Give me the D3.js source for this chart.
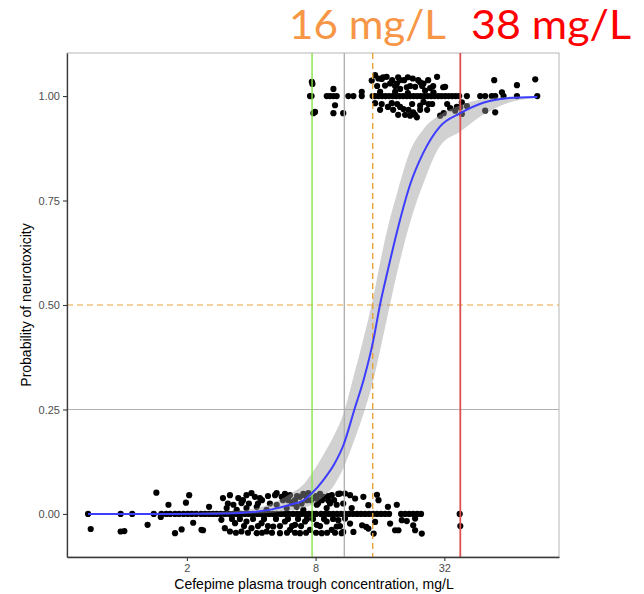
<!DOCTYPE html>
<html><head><meta charset="utf-8">
<script src="https://cdn.jsdelivr.net/npm/d3@7"></script>
<style>body{margin:0;background:#fff}svg{display:block}</style></head>
<body>
<svg id="c" width="644" height="594"></svg>
<script>
// ---------- data ----------
const xTicks = [2, 8, 32];
const yTicks = [0, 0.25, 0.5, 0.75, 1];
const xDomain = [0.55, 110];
const yDomain = [-0.103, 1.103];
const refConc = [7.7, 10.9, 14.8, 38];           // green, grey, orange dashed, red
const refProb = [0.25, 0.5];                      // grey, orange dashed
const annotLabels = ["16 mg/L", "38 mg/L"];
const xTitle = "Cefepime plasma trough concentration, mg/L";
const yTitle = "Probability of neurotoxicity";

// fitted logistic curve and confidence band
const curveConc = [0.69, 1.0, 1.34, 1.75, 2.3, 3.0, 3.95, 5.0, 6.07, 7.0, 7.7, 8.66, 9.8, 10.8, 12.2, 13.4, 14.9, 16.0, 17.3, 19.3, 22.2, 25.5, 30.5, 38, 48.6, 63, 87];
const curveFit   = [0, 0, 0, 0.0001, 0.0004, 0.0012, 0.004, 0.011, 0.022, 0.032, 0.05, 0.08, 0.12, 0.165, 0.253, 0.32, 0.416, 0.5, 0.577, 0.679, 0.79, 0.864, 0.927, 0.959, 0.984, 0.995, 0.998];
const curveLow   = [0, 0, 0, 0, 0, 0.0002, 0.001, 0.003, 0.008, 0.014, 0.022, 0.04, 0.07, 0.11, 0.18, 0.24, 0.32, 0.39, 0.47, 0.58, 0.70, 0.79, 0.88, 0.915, 0.955, 0.983, 0.996];
const curveHigh  = [0.001, 0.001, 0.001, 0.002, 0.003, 0.005, 0.011, 0.025, 0.048, 0.07, 0.098, 0.14, 0.19, 0.24, 0.34, 0.42, 0.52, 0.60, 0.68, 0.77, 0.87, 0.92, 0.955, 0.978, 0.993, 0.998, 0.999];

// patients without neurotoxicity (plotted at 0)
const negConc = [0.69, 0.98, 1.11, 1.40, 1.52, 1.60, 1.67, 1.76, 1.84, 1.93, 2.02, 2.11, 2.21, 2.33, 2.43, 2.54, 2.65, 2.76, 2.88, 3.01, 3.15, 3.29, 3.43, 3.58, 3.74, 3.90, 4.08, 4.26, 4.44, 4.64, 4.84, 5.05, 5.28, 5.51, 5.75, 5.99, 6.27, 6.55, 6.84, 7.14, 7.45, 7.78, 8.04, 8.48, 8.85, 9.24, 9.65, 10.08, 10.52, 10.98, 11.47, 11.98, 12.51, 13.05, 13.62, 14.23, 14.86, 15.50, 16.19, 16.90, 17.65, 20.09, 20.97, 21.90, 22.88, 23.87, 24.9, 37.75];
// jittered copies [conc, prob]
const negJitter = [
[0.71,-0.036],[0.98,-0.042],[1.02,-0.041],[1.31,-0.026],[1.44,0.051],[1.51,-0.007],[1.64,0.022],[1.76,-0.046],[1.89,-0.037],[1.98,0.027],
[2.05,0.045],[2.14,-0.021],[2.34,-0.038],[2.38,-0.039],[2.54,0.017],[2.95,0.038],[2.90,-0.014],[3.01,-0.034],[3.07,0.014],[3.18,0.045],
[3.18,-0.042],[3.30,0.022],[3.36,-0.022],[3.42,0.0096],[3.48,0.038],[3.60,0.026],[3.60,-0.042],[3.80,0.045],[3.80,-0.018],[3.80,0.014],
[4.01,0.050],[4.01,-0.034],[4.16,0.041],[4.24,-0.046],[4.24,0.017],[4.39,0.038],[4.47,-0.022],[4.72,-0.042],[4.72,0.0096],[5.07,-0.030],
[5.17,0.045],[5.26,0.050],[5.26,0.022],[5.45,-0.046],[5.55,0.041],[5.75,-0.018],[5.86,0.014],[5.96,0.033],[6.07,-0.038],[6.07,0.045],
[6.30,0.029],[6.41,-0.026],[6.41,0.033],[6.52,0.017],[6.76,-0.046],[6.76,0.041],[6.88,0.025],[7.01,0.0096],[7.14,-0.018],[7.14,0.045],
[7.28,0.033],[7.40,0.050],[7.53,-0.038],[7.81,0.038],[8.10,-0.026],[8.10,0.022],[8.24,0.033],[8.54,-0.046],[8.69,0.041],[9.01,-0.018],
[9.01,0.014],[9.16,0.033],[9.52,-0.038],[9.52,0.045],[10.04,-0.030],[10.04,0.022],[10.59,-0.046],[10.40,0.049],[10.98,0.049],[11.59,0.045],
[12.24,0.037],[13.38,0.041],[15.49,0.046],[15.75,0.033],[19.18,0.022],[17.43,0.017],[14.12,0.021],[10.77,0.025],[11.80,0.014],[10.21,-0.015],
[10.98,-0.011],[11.59,-0.023],[13.20,-0.027],[13.80,-0.031],[15.18,-0.019],[17.84,-0.023],[20.24,-0.015],[21.36,-0.017],[22.88,-0.027],[23.36,-0.039],
[25.1,-0.047],[18.83,-0.039],[19.52,-0.039],[14.95,-0.047],[14.12,-0.035],[12.02,-0.043],[10.77,-0.043],[23.36,-0.011],[38.0,-0.029],
[3.66,0.033],[4.49,0.033],[5.63,0.033],[7.62,0.033],[8.57,0.033],[9.76,0.033],
[3.11,0.025],[3.90,0.025],[4.30,0.025],[4.89,0.025],[6.21,0.025],[8.21,0.025],[9.34,0.025],
[3.25,-0.012],[3.54,-0.012],[4.08,-0.012],[4.59,-0.012],[5.22,-0.012],[5.94,-0.012],[6.62,-0.012],[7.29,-0.012],[7.78,-0.012],[8.76,-0.012],[9.65,-0.012],
[3.70,-0.029],[4.30,-0.029],[4.79,-0.029],[5.45,-0.029],[6.21,-0.029],[6.84,-0.029],[8.39,-0.029],[10.40,-0.029],
[3.39,-0.045],[3.86,-0.045],[4.49,-0.045],[5.00,-0.045],[5.88,-0.045],[6.41,-0.045],[7.22,-0.045],[8.04,-0.045],[9.05,-0.045],[9.86,-0.045],
[4.79,0.043],[5.82,0.043],[6.55,0.043],[8.04,0.043],[9.15,0.043],
[5.75,0.048],[7.01,0.048],[8.39,0.048],[10.21,0.048]
];

// patients with neurotoxicity (plotted at 1)
const posConc = [7.53, 7.66, 9.02, 9.34, 9.69, 10.04, 11.38, 12.02, 13.15, 14.78, 15.18, 15.77, 16.37, 16.99, 17.65, 18.34, 19.04, 19.77, 20.53, 21.32, 22.13, 22.99, 23.88, 24.80, 25.74, 26.74, 27.76, 28.83, 29.95, 31.09, 32.27, 33.52, 34.82, 36.16, 37.55, 40.79, 47.08, 49.67, 53.29, 55.33, 60.54, 69.94, 87.05];
const posJitter = [
[7.68,1.034],[7.73,1.029],[7.95,0.962],[7.81,0.959],[9.69,1.017],[9.86,0.978],[9.69,0.959],[10.77,0.959],[13.15,1.010],[14.64,1.037],
[15.18,1.050],[15.73,1.042],[16.30,1.041],[17.19,1.046],[16.90,1.025],[17.84,1.030],[19.19,1.030],[19.87,1.038],[19.87,1.017],[21.36,1.021],
[22.76,1.042],[23.36,1.022],[24.66,1.033],[25.56,1.030],[26.01,1.013],[16.02,1.010],[18.83,1.010],[21.6,1.007],[27.46,1.019],[15.18,0.983],
[16.30,0.981],[17.43,0.974],[18.16,0.983],[19.87,0.974],[20.59,0.969],[21.75,0.967],[22.13,0.953],[22.88,0.961],[23.36,0.955],[23.81,0.949],
[24.66,0.977],[25.56,0.986],[26.97,0.981],[29.59,1.046],[32.27,1.022],[31.60,1.021],[28.46,1.009],[54.75,1.038],[69.94,1.026],[85.17,1.040],
[59.49,1.009],[30.59,0.953],[31.79,0.959],[34.06,0.971],[35.96,0.965],[36.63,0.974],[37.95,0.973],[38.64,0.985],[38.64,0.957],[40.79,0.976],
[49.67,0.965],[55.33,0.961],
[18.24,1.038],[20.75,1.038],[24.14,1.038],[26.88,1.038],
[15.52,1.024],[18.83,1.024],[22.13,1.024],[25.2,1.024],[28.37,1.024],
[19.25,0.981],[22.62,0.981],[28.07,0.981],[32.99,0.981],
[16.02,0.967],[18.44,0.967],[24.66,0.967],[26.59,0.967],
[16.54,1.045],[19.46,1.045],[21.6,1.045],[19.46,0.955],[20.97,0.955]
];

// ---------- drawing ----------
const L = 67, R = 559, T = 53, B = 557;
const svg = d3.select("#c");
const x = d3.scaleLog().base(2).domain(xDomain).range([L, R]);
const y = d3.scaleLinear().domain(yDomain).range([B, T]);

// panel border (light)
svg.append("rect").attr("x", L).attr("y", T).attr("width", R - L).attr("height", B - T)
  .attr("fill", "none").attr("stroke", "#b5b5b5").attr("stroke-width", 1);

// horizontal reference lines
svg.append("line").attr("x1", L).attr("x2", R).attr("y1", y(refProb[0])).attr("y2", y(refProb[0]))
  .attr("stroke", "#b3b3b3").attr("stroke-width", 1.2);
svg.append("line").attr("x1", L).attr("x2", R).attr("y1", y(refProb[1])).attr("y2", y(refProb[1]))
  .attr("stroke", "#E8A33A").attr("stroke-width", 1.2).attr("stroke-dasharray", "6,4");

const R_PT = 3.1;
const pts = svg.append("g").attr("fill", "#000");
pts.selectAll("c.n").data(negConc).join("circle").attr("cx", d => x(d)).attr("cy", y(0)).attr("r", R_PT);
pts.selectAll("c.nj").data(negJitter).join("circle").attr("cx", d => x(d[0])).attr("cy", d => y(d[1])).attr("r", R_PT);
pts.selectAll("c.p").data(posConc).join("circle").attr("cx", d => x(d)).attr("cy", y(1)).attr("r", R_PT);
pts.selectAll("c.pj").data(posJitter).join("circle").attr("cx", d => x(d[0])).attr("cy", d => y(d[1])).attr("r", R_PT);

// confidence band
const band = curveConc.map((c, i) => ({c, lo: curveLow[i], hi: curveHigh[i], f: curveFit[i]}));
svg.append("path").datum(band)
  .attr("d", d3.area().x(d => x(d.c)).y0(d => y(d.lo)).y1(d => y(d.hi)).curve(d3.curveMonotoneX))
  .attr("fill", "#999999").attr("fill-opacity", 0.45);

// vertical reference lines
const vCols = ["#86e34a", "#b0b0b0", "#E8A33A", "#dc5050"];
refConc.forEach((c, i) => {
  const ln = svg.append("line").attr("x1", x(c)).attr("x2", x(c)).attr("y1", T).attr("y2", B)
    .attr("stroke", vCols[i]).attr("stroke-width", i === 3 ? 1.8 : 1.4);
  if (i === 2) ln.attr("stroke-dasharray", "6,4");
});

// fitted curve
svg.append("path").datum(band)
  .attr("d", d3.line().x(d => x(d.c)).y(d => y(d.f)).curve(d3.curveMonotoneX))
  .attr("fill", "none").attr("stroke", "#3d3dff").attr("stroke-width", 2);

// axes
const font = "'Liberation Sans', Arial, sans-serif";
const gx = svg.append("g").attr("transform", `translate(0,${B})`)
  .call(d3.axisBottom(x).tickValues(xTicks).tickFormat(d3.format("d")).tickSize(4).tickSizeOuter(0).tickPadding(3));
const gy = svg.append("g").attr("transform", `translate(${L},0)`)
  .call(d3.axisLeft(y).tickValues(yTicks).tickFormat(d3.format(".2f")).tickSize(4).tickSizeOuter(0).tickPadding(3));
[gx, gy].forEach(g => {
  g.select(".domain").attr("stroke", "#3a3a3a").attr("stroke-width", 1.3);
  g.selectAll(".tick line").attr("stroke", "#3a3a3a").attr("stroke-width", 1.1);
  g.selectAll(".tick text").attr("fill", "#4d4d4d").style("font-family", font).style("font-size", "11px");
});

// axis titles
svg.append("text").attr("x", 314).attr("y", 589).attr("text-anchor", "middle")
  .style("font-family", font).style("font-size", "14px").attr("fill", "#000").text(xTitle);
svg.append("text").attr("transform", `translate(31,305) rotate(-90)`).attr("text-anchor", "middle")
  .style("font-family", font).style("font-size", "14px").attr("fill", "#000").text(yTitle);

// big annotations
const annFont = "Lato, 'Open Sans', sans-serif";
svg.append("text").attr("x", 289).attr("y", 39).attr("textLength", 157).attr("lengthAdjust", "spacingAndGlyphs")
  .style("font-family", annFont).style("font-size", "41px").attr("fill", "#F79646").text(annotLabels[0]);
svg.append("text").attr("x", 471).attr("y", 39).attr("textLength", 160).attr("lengthAdjust", "spacingAndGlyphs")
  .style("font-family", annFont).style("font-size", "41px").attr("fill", "#FF0000").text(annotLabels[1]);
</script>
</body></html>
